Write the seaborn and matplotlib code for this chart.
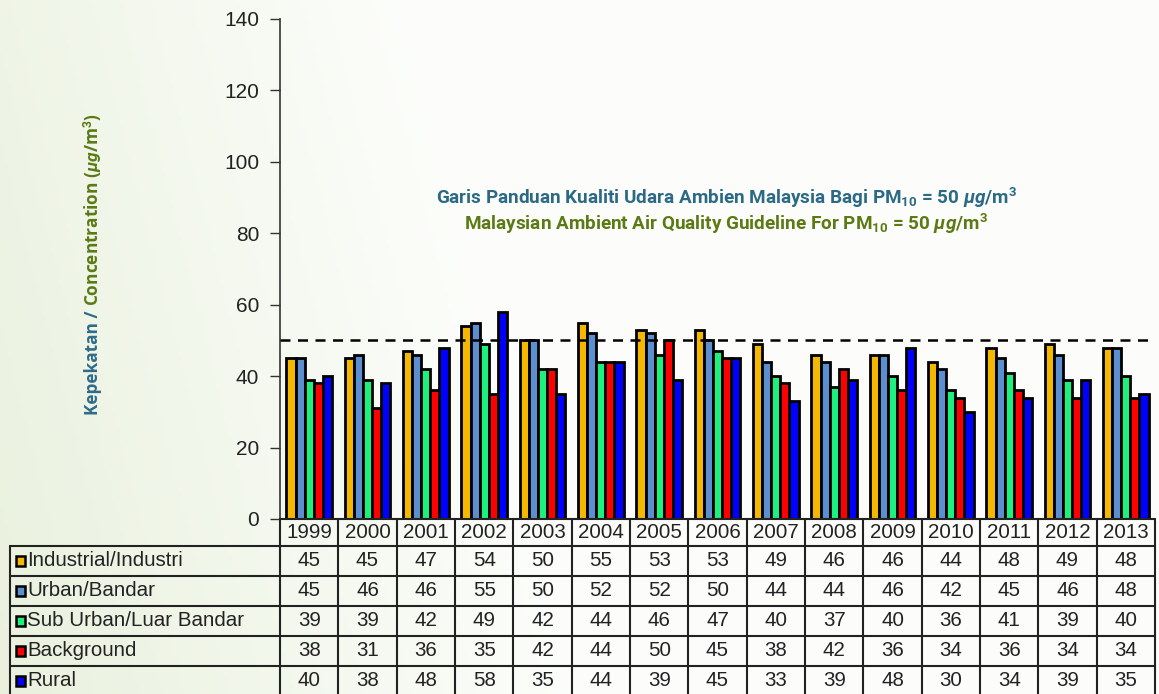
import numpy as np
import pandas as pd
import matplotlib
matplotlib.use("Agg")
import matplotlib.pyplot as plt
from matplotlib.patches import Rectangle
import seaborn as sns

# data from the table under the chart
years = ['1999', '2000', '2001', '2002', '2003', '2004', '2005', '2006',
         '2007', '2008', '2009', '2010', '2011', '2012', '2013']
stations = ['Industrial/Industri', 'Urban/Bandar', 'Sub Urban/Luar Bandar',
            'Background', 'Rural']
industrial = [45, 45, 47, 54, 50, 55, 53, 53, 49, 46, 46, 44, 48, 49, 48]
urban = [45, 46, 46, 55, 50, 52, 52, 50, 44, 44, 46, 42, 45, 46, 48]
suburban = [39, 39, 42, 49, 42, 44, 46, 47, 40, 37, 40, 36, 41, 39, 40]
background = [38, 31, 36, 35, 42, 44, 50, 45, 38, 42, 36, 34, 36, 34, 34]
rural = [40, 38, 48, 58, 35, 44, 39, 45, 33, 39, 48, 30, 34, 39, 35]
guideline = 50
colors = ['#F5B800', '#5B8FD0', '#1EF07E', '#FF0000', '#0000FF']

series = [industrial, urban, suburban, background, rural]
df = pd.DataFrame({
    'Year': np.tile(years, len(stations)),
    'Station': np.repeat(stations, len(years)),
    'Value': np.concatenate(series),
})

sns.set_theme(style="white")
plt.rcParams['font.family'] = ['Liberation Sans', 'DejaVu Sans']
plt.rcParams['mathtext.fontset'] = 'custom'
plt.rcParams['mathtext.rm'] = 'Roboto:bold'
plt.rcParams['mathtext.it'] = 'Roboto:italic:bold'

W, H = 1159, 694
fig = plt.figure(figsize=(W / 100, H / 100), dpi=100)

# soft green gradient background
bg = fig.add_axes([0, 0, 1, 1], zorder=-10)
gx = np.linspace(0, 1, 300)
gy = np.linspace(0, 1, 200)
GX, GY = np.meshgrid(gx, gy)
t = np.clip(1 - (GX * 2.0 + (1 - GY) * 0.3), 0, 1)
c0 = np.array([0.99, 0.995, 0.985])
c1 = np.array([0.915, 0.945, 0.870])
img = c0[None, None, :] * (1 - t[..., None]) + c1[None, None, :] * t[..., None]
bg.imshow(img, aspect='auto', extent=[0, 1, 0, 1], origin='upper')
bg.axis('off')

# main bar axes
left, right, top, bottom = 280, 1155, 19, 519
ax = fig.add_axes([left / W, 1 - bottom / H, (right - left) / W, (bottom - top) / H])
ax.patch.set_alpha(0)
sns.barplot(data=df, x='Year', y='Value', hue='Station', order=years,
            hue_order=stations, palette=colors, width=0.78, dodge=True,
            edgecolor='black', linewidth=2, saturation=1, legend=False, ax=ax)

ax.axhline(guideline, color='black', linestyle=(0, (4, 3)), linewidth=1.8, zorder=5)
ax.set_ylim(0, 140)
ax.set_xlim(-0.5, 14.5)
ax.set_yticks(range(0, 141, 20))
ax.tick_params(axis='y', left=True, length=7, width=1, color='#333333',
               labelsize=15, pad=8, labelcolor='#222222')
ax.tick_params(axis='x', bottom=False, labelbottom=False)
ax.set_xlabel('')
ax.set_ylabel('')
for s in ['top', 'right', 'bottom']:
    ax.spines[s].set_visible(False)
ax.spines['left'].set_color('#333333')
ax.spines['left'].set_linewidth(1.2)

# guideline caption
ax.text(0.51, 0.642, 'Garis Panduan Kualiti Udara Ambien Malaysia Bagi PM$_{10}$ = 50 $\\mathit{\\mu g}$/m$^3$',
        transform=ax.transAxes, ha='center', va='center', fontsize=13.6,
        fontweight='bold', color='#2C6985', family=['Roboto', 'DejaVu Sans'])
ax.text(0.51, 0.590, 'Malaysian Ambient Air Quality Guideline For PM$_{10}$ = 50 $\\mathit{\\mu g}$/m$^3$',
        transform=ax.transAxes, ha='center', va='center', fontsize=13.6,
        fontweight='bold', color='#5B7A14', family=['Roboto', 'DejaVu Sans'])

# data table under the chart
tleft = 10
col_w = (right - left) / 15
tab = fig.add_axes([tleft / W, 0, (right - tleft) / W, (H - bottom) / H])
tab.set_xlim(-0.5 - (left - tleft) / col_w, 14.5)
tab.set_ylim(H - bottom, 0)
tab.axis('off')
tab.patch.set_alpha(0)

xl = -0.5 - (left - tleft) / col_w
row_edges = [0, 27, 57, 87, 117, 147, 177]
lw = 1.5
# horizontal lines
tab.plot([-0.5, 14.5], [0, 0], color='#222222', lw=lw, clip_on=False)
for r in row_edges[1:]:
    tab.plot([xl, 14.5], [r, r], color='#222222', lw=lw, clip_on=False)
# vertical lines
for i in range(16):
    tab.plot([i - 0.5, i - 0.5], [0, 177], color='#222222', lw=lw, clip_on=False)
tab.plot([xl, xl], [27, 177], color='#222222', lw=lw, clip_on=False)

fs = 14.8
for i, yr in enumerate(years):
    tab.text(i, 14, yr, ha='center', va='center', fontsize=fs, color='#222222')

sq = 0.16
for r, (name, vals, c) in enumerate(zip(stations, series, colors)):
    yc = (row_edges[r + 1] + row_edges[r + 2]) / 2
    tab.add_patch(Rectangle((xl + 0.1, yc - 5), sq, 10, facecolor=c,
                            edgecolor='black', lw=1.8, clip_on=False))
    tab.text(xl + 0.1 + sq + 0.03, yc, name, ha='left', va='center',
             fontsize=fs, color='#222222')
    for i, v in enumerate(vals):
        tab.text(i, yc, str(v), ha='center', va='center', fontsize=fs, color='#222222')

# two-coloured y label
lab1 = fig.text(93 / W, 1 - 415 / H, 'Kepekatan / ', rotation=90, rotation_mode='anchor',
                ha='left', va='center', fontsize=12.4, fontweight='bold',
                color='#2E6C8A', family=['Open Sans', 'DejaVu Sans'])
fig.canvas.draw()
ext = lab1.get_window_extent(fig.canvas.get_renderer())
fig.text(93 / W, ext.y1 / H, 'Concentration ($\\mathit{\\mu g}$/m$^3$)', rotation=90,
         rotation_mode='anchor', ha='left', va='center', fontsize=12.4,
         fontweight='bold', color='#5B7A14', family=['Open Sans', 'DejaVu Sans'])

fig.savefig('out.png', dpi=100)
